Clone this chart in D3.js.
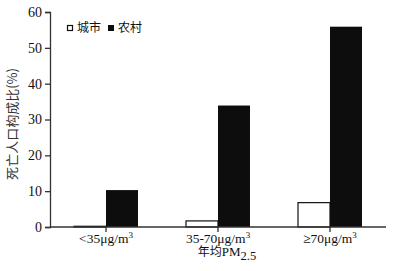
<!DOCTYPE html>
<html lang="zh">
<head>
    <meta charset="UTF-8">
    <title>年均PM2.5 死亡人口构成比</title>
    <script src="https://d3js.org/d3.v7.min.js"></script>
    <style>
        body { margin: 0; background: #fff; }
        text { font-family: "Liberation Serif", "Noto Sans CJK SC", serif; fill: #111; }
        .cjk { font-family: "Noto Sans CJK SC", sans-serif; }
    </style>
</head>
<body>
    <svg id="chart" width="398" height="271"></svg>
    <script>
        const categories = ["<35μg/m³", "35-70μg/m³", "≥70μg/m³"];
        const seriesNames = ["城市", "农村"];
        const urban = [0.2, 1.7, 6.8];
        const rural = [10.3, 33.9, 55.9];
        const yTicks = [0, 10, 20, 30, 40, 50, 60];

        const svg = d3.select("#chart");
        const margin = { top: 12, right: 12, bottom: 44, left: 50 };
        const width = 398 - margin.left - margin.right;
        const height = 227 - margin.top;

        const g = svg.append("g").attr("transform", `translate(${margin.left},${margin.top})`);

        const x = d3.scaleBand().domain(categories).range([0, width]).paddingInner(0);
        const y = d3.scaleLinear().domain([0, 60]).range([height, 0]);
        const barW = 32;

        const data = categories.map((c, i) => ({ cat: c, urban: urban[i], rural: rural[i] }));

        // urban bars (open)
        g.selectAll(".urban").data(data).enter().append("rect")
            .attr("x", d => x(d.cat) + x.bandwidth() / 2 - barW)
            .attr("y", d => y(d.urban))
            .attr("width", barW)
            .attr("height", d => height - y(d.urban))
            .style("fill", "#fff")
            .style("stroke", "#111")
            .style("stroke-width", 1.2);

        // rural bars (filled)
        g.selectAll(".rural").data(data).enter().append("rect")
            .attr("x", d => x(d.cat) + x.bandwidth() / 2)
            .attr("y", d => y(d.rural))
            .attr("width", barW)
            .attr("height", d => height - y(d.rural))
            .style("fill", "#0d0d0d");

        // axes
        const yAxis = g.append("g")
            .call(d3.axisLeft(y).tickValues(yTicks).tickSize(5).tickPadding(3));
        yAxis.selectAll("text").style("font-size", "14px");

        const xAxis = g.append("g")
            .attr("transform", `translate(0,${height})`)
            .call(d3.axisBottom(x).tickSize(5).tickPadding(4).tickFormat(""));
        xAxis.select(".domain").attr("d", `M0,0H${width}`);
        g.selectAll(".domain, .tick line").style("stroke", "#333").style("stroke-width", 1.3);

        // x tick labels with superscript 3
        xAxis.selectAll(".tick").append("text")
            .attr("y", 16)
            .attr("text-anchor", "middle")
            .style("font-size", "13.5px")
            .each(function(d) {
                const t = d3.select(this);
                t.append("tspan").text(d.replace("³", ""));
                t.append("tspan").attr("dy", -5).style("font-size", "9px").text("3");
            });

        // x axis title
        const xt = g.append("text")
            .attr("x", x(categories[1]) + x.bandwidth() / 2 + 9)
            .attr("y", height + 29)
            .attr("text-anchor", "middle")
            .style("font-size", "13px");
        xt.append("tspan").attr("class", "cjk").style("font-size", "12px").text("年均");
        xt.append("tspan").text("PM");
        xt.append("tspan").attr("dy", 4).style("font-size", "12.5px").text("2.5");

        // y axis title
        svg.append("text")
            .attr("class", "cjk")
            .attr("transform", "translate(17,124) rotate(-90)")
            .attr("text-anchor", "middle")
            .style("font-size", "13px")
            .style("fill", "#333")
            .text("死亡人口构成比(%)");

        // legend
        const legend = svg.append("g").attr("transform", "translate(67,25)");
        legend.append("rect").attr("x", 0.5).attr("y", 0.5).attr("width", 5).attr("height", 5)
            .style("fill", "#fff").style("stroke", "#111").style("stroke-width", 1.2);
        legend.append("text").attr("class", "cjk").attr("x", 10).attr("y", 7)
            .style("font-size", "12px").text(seriesNames[0]);
        legend.append("rect").attr("x", 41).attr("y", 0).attr("width", 6).attr("height", 6)
            .style("fill", "#0d0d0d");
        legend.append("text").attr("class", "cjk").attr("x", 51).attr("y", 7)
            .style("font-size", "12px").text(seriesNames[1]);
    </script>
</body>
</html>
